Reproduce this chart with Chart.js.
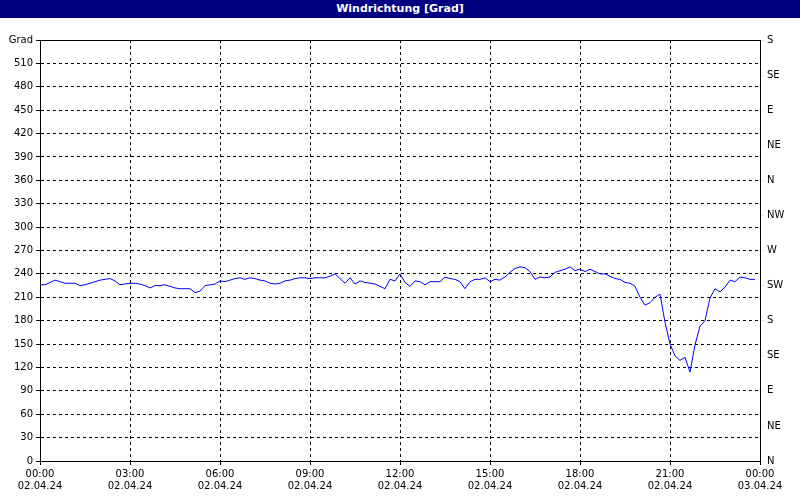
<!DOCTYPE html><html><head><meta charset="utf-8">
<script src="https://cdn.jsdelivr.net/npm/chart.js@4"></script>
<style>body{margin:0;background:#fff}#t{height:18px;background:#000080;color:#fff;font:bold 11px "DejaVu Sans";text-align:center;line-height:18px}#w{width:800px;height:482px}</style></head><body>
<div id="t">Windrichtung [Grad]</div><div id="w"><canvas id="c"></canvas></div>
<script>
const dirValues=[226,226,229,232,230,228,228,228,225,226,228,230,232,233,234,231,226,227,228,228,227,225,222,225,225,226,224,222,221,221,221,216,218,225,226,227,231,230,232,234,235,233,235,234,232,231,228,227,228,231,232,234,235,235,234,235,235,235,237,240,234,228,235,227,231,229,228,227,224,221,233,231,
240,229,224,231,230,226,230,230,230,236,234,233,230,221,230,233,233,235,230,233,232,236,242,247,249,248,243,233,236,235,236,242,244,246,249,244,246,243,246,243,240,240,237,234,233,229,228,224,210,200,203,210,214,178,150,135,129,133,114,149,173,180,209,221,217,223,232,230,236,235,233,233];
const stepMinutes=10;
const timeLabels=["00:00","03:00","06:00","09:00","12:00","15:00","18:00","21:00","00:00"];
const dateLabels=["02.04.24","02.04.24","02.04.24","02.04.24","02.04.24","02.04.24","02.04.24","02.04.24","03.04.24"];
const compassLabels=["N","NE","E","SE","S","SW","W","NW","N","NE","E","SE","S"];
const pts=dirValues.map((v,i)=>({x:i*stepMinutes,y:v}));
const f={family:"DejaVu Sans",size:10};
const frame={id:'frame',afterDraw(c){const a=c.chartArea,x=c.ctx;x.save();x.strokeStyle='#000';x.lineWidth=1;x.strokeRect(Math.round(a.left)+0.5,Math.round(a.top)+0.5,Math.round(a.right-a.left),Math.round(a.bottom-a.top));x.restore();}};
new Chart(document.getElementById('c'),{type:'line',
data:{datasets:[{data:pts,borderColor:'#0000ff',borderWidth:1,pointRadius:0,tension:0,yAxisID:'y'}]},
options:{responsive:true,maintainAspectRatio:false,animation:false,
layout:{padding:{top:22,bottom:5,left:0,right:0}},
plugins:{legend:{display:false},tooltip:{enabled:false}},
scales:{
x:{type:'linear',min:0,max:1440,afterBuildTicks:a=>{a.ticks=timeLabels.map((_,i)=>({value:i*180}));},
ticks:{color:'#000',font:f,maxRotation:0,autoSkip:false,callback:(v)=>[timeLabels[v/180],dateLabels[v/180]]},
grid:{color:'#000',tickLength:4},border:{color:'#000',dash:[3,3]}},
y:{min:0,max:540,afterFit:a=>{a.width=40},afterBuildTicks:a=>{a.ticks=[];for(let v=0;v<=540;v+=30)a.ticks.push({value:v});},
ticks:{color:'#000',font:f,autoSkip:false,callback:v=>v===540?'Grad':v},
grid:{color:'#000',tickLength:4},border:{color:'#000',dash:[3,3]}},
y2:{position:'right',min:0,max:540,afterFit:a=>{a.width=40},afterBuildTicks:a=>{a.ticks=[];for(let v=0;v<=540;v+=45)a.ticks.push({value:v});},
ticks:{color:'#000',font:f,autoSkip:false,callback:v=>compassLabels[v/45]},
grid:{drawOnChartArea:false,tickLength:4},border:{color:'#000'}}
}},plugins:[frame]});
</script></body></html>
